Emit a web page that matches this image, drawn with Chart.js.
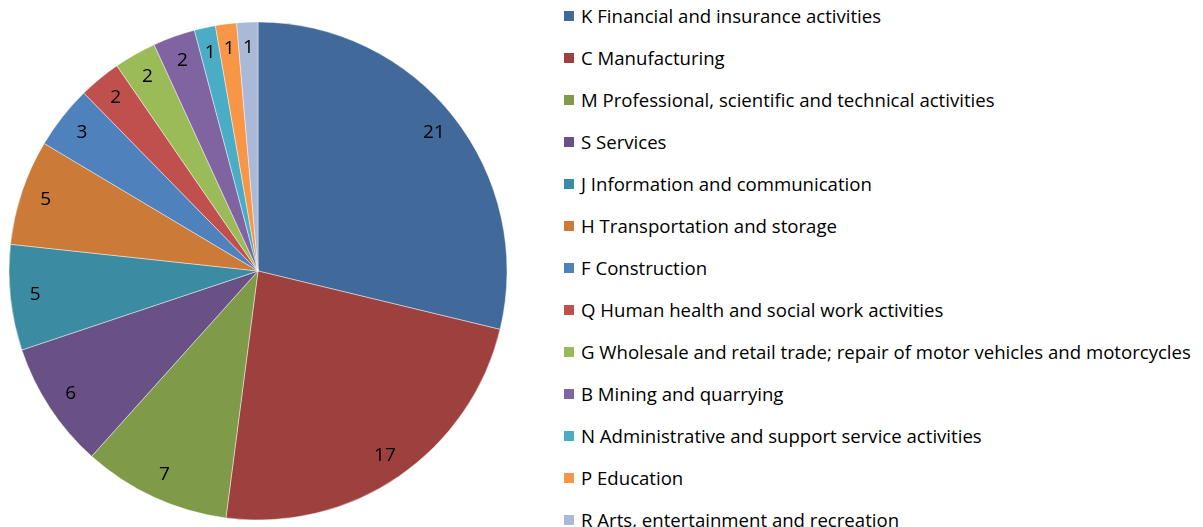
<!DOCTYPE html>
<html>
<head>
<meta charset="utf-8">
<script src="https://cdn.jsdelivr.net/npm/chart.js@4"></script>
<style>
  html, body { margin: 0; padding: 0; background: #fff; overflow: hidden; }
  body { width: 1203px; height: 527px; position: relative; font-family: 'Open Sans', sans-serif; }
  #pieBox { position: absolute; left: 9px; top: 22px; width: 498px; height: 498px; }
  #legend { position: absolute; left: 564px; top: 0; }
  .item { position: absolute; left: 0; height: 20px; white-space: nowrap; font-size: 18.6px; color: #000; }
  .item i { position: absolute; left: 0; top: 5px; width: 10px; height: 10px; }
  .item span { position: absolute; left: 17px; top: 0; line-height: 20px; }
</style>
</head>
<body>
<div id="pieBox"><canvas id="pie"></canvas></div>
<div id="legend"></div>
<script>
  // --- data ---
  const categories = [
    'K Financial and insurance activities',
    'C Manufacturing',
    'M Professional, scientific and technical activities',
    'S Services',
    'J Information and communication',
    'H Transportation and storage',
    'F Construction',
    'Q Human health and social work activities',
    'G Wholesale and retail trade; repair of motor vehicles and motorcycles',
    'B Mining and quarrying',
    'N Administrative and support service activities',
    'P Education',
    'R Arts, entertainment and recreation',
  ];
  const counts = [21, 17, 7, 6, 5, 5, 3, 2, 2, 2, 1, 1, 1];
  const sliceColors = [
    '#416a9b', '#9e413e', '#7f9a48', '#695186', '#3b8ca2', '#cc7a37',
    '#4f81bd', '#c0504d', '#9bbb59', '#8064a2', '#4bacc6', '#f79646', '#a9b9d7',
  ];

  // --- labels inside the outer end of each slice ---
  const insideEndLabels = {
    id: 'insideEndLabels',
    afterDatasetsDraw(chart) {
      const ctx = chart.ctx;
      const meta = chart.getDatasetMeta(0);
      ctx.save();
      ctx.font = "19px 'Open Sans', sans-serif";
      ctx.fillStyle = '#000';
      ctx.textAlign = 'center';
      ctx.textBaseline = 'middle';
      meta.data.forEach((arc, i) => {
        const p = arc.getProps(['x', 'y', 'startAngle', 'endAngle', 'outerRadius'], true);
        const mid = (p.startAngle + p.endAngle) / 2;
        const r = p.outerRadius - 25;
        ctx.fillText(String(counts[i]), p.x + Math.cos(mid) * r, p.y + Math.sin(mid) * r);
      });
      ctx.restore();
    },
  };

  new Chart(document.getElementById('pie'), {
    type: 'pie',
    data: {
      labels: categories,
      datasets: [{
        data: counts,
        backgroundColor: sliceColors,
        borderColor: 'rgba(255,255,255,0.55)',
        borderWidth: 0.8,
      }],
    },
    options: {
      responsive: true,
      maintainAspectRatio: false,
      animation: false,
      radius: 249,
      layout: { padding: 0 },
      plugins: {
        legend: { display: false },
        tooltip: { enabled: false },
      },
    },
    plugins: [insideEndLabels],
  });

  // --- legend ---
  const legend = document.getElementById('legend');
  categories.forEach((name, i) => {
    const row = document.createElement('div');
    row.className = 'item';
    row.style.top = (6 + i * 42) + 'px';
    row.innerHTML = '<i style="background:' + sliceColors[i] + '"></i><span>' + name + '</span>';
    legend.appendChild(row);
  });
</script>
</body>
</html>
